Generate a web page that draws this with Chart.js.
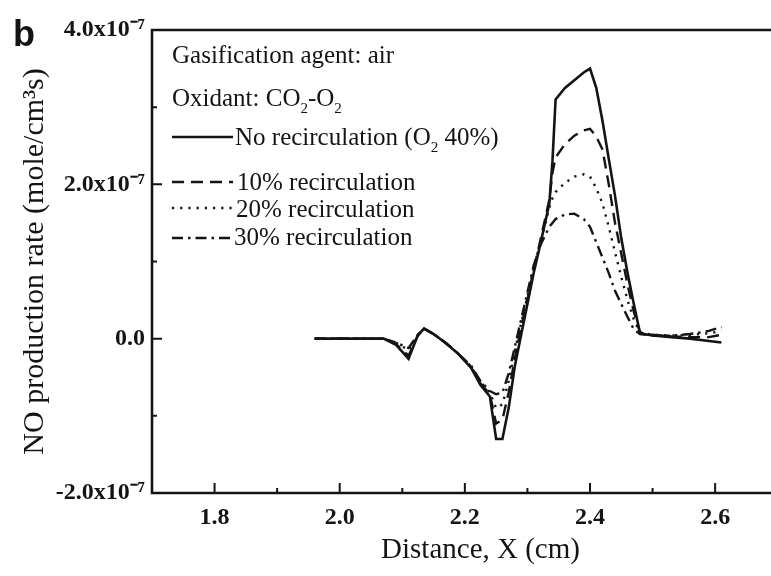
<!DOCTYPE html>
<html>
<head>
<meta charset="utf-8">
<title>NO production rate</title>
<script src="https://cdn.jsdelivr.net/npm/chart.js@4.4.1/dist/chart.umd.min.js"></script>
<style>
  html, body { margin: 0; padding: 0; background: #fff; overflow: hidden; }
  #wrap { position: relative; width: 812px; height: 576px; }
</style>
</head>
<body>
<div id="wrap"><canvas id="noChart"></canvas></div>
<script>
// Distance along the reactor (cm), shared by all four runs
const distance = [1.96, 2.00, 2.04, 2.07, 2.09, 2.11, 2.125, 2.135, 2.15, 2.17,
                  2.19, 2.21, 2.225, 2.24, 2.25, 2.26, 2.27, 2.28, 2.29, 2.30,
                  2.31, 2.32, 2.335, 2.34, 2.345, 2.36, 2.375, 2.39, 2.40, 2.41,
                  2.42, 2.43, 2.44, 2.45, 2.46, 2.47, 2.48, 2.50, 2.53, 2.56,
                  2.59, 2.61];

// NO production rate, in units of 1e-7 mole/(cm3 s)
const noRecirc = [0, 0, 0, 0, -0.08, -0.26, 0.05, 0.13, 0.06, -0.06,
                  -0.2, -0.38, -0.6, -0.75, -1.3, -1.3, -0.9, -0.35, 0.05, 0.45,
                  0.85, 1.2, 1.75, 2.3, 3.1, 3.25, 3.35, 3.45, 3.5, 3.25,
                  2.82, 2.33, 1.85, 1.3, 0.85, 0.45, 0.07, 0.04, 0.02, 0,
                  -0.03, -0.05];
const recirc10 = [0, 0, 0, 0, -0.07, -0.22, 0.04, 0.13, 0.06, -0.06,
                  -0.2, -0.37, -0.58, -0.72, -1.1, -1.05, -0.7, -0.25, 0.15, 0.5,
                  0.9, 1.25, 1.8, 2.15, 2.35, 2.52, 2.63, 2.7, 2.72, 2.62,
                  2.45, 2.0, 1.5, 1.1, 0.7, 0.35, 0.08, 0.05, 0.03, 0.02,
                  0.02, 0.05];
const recirc20 = [0, 0, 0, 0, -0.05, -0.15, 0.05, 0.13, 0.06, -0.06,
                  -0.2, -0.36, -0.56, -0.7, -0.9, -0.85, -0.55, -0.15, 0.2, 0.55,
                  0.9, 1.2, 1.7, 1.82, 1.9, 2.02, 2.1, 2.13, 2.1, 1.95,
                  1.75, 1.45, 1.12, 0.8, 0.5, 0.25, 0.08, 0.05, 0.04, 0.05,
                  0.07, 0.1];
const recirc30 = [0, 0, 0, 0, -0.05, -0.12, 0.05, 0.13, 0.06, -0.06,
                  -0.2, -0.35, -0.55, -0.68, -0.72, -0.7, -0.45, -0.1, 0.25, 0.6,
                  0.95, 1.2, 1.45, 1.5, 1.55, 1.61, 1.62, 1.55, 1.45, 1.25,
                  1.05, 0.85, 0.62, 0.45, 0.28, 0.12, 0.06, 0.04, 0.04, 0.06,
                  0.1, 0.15];

// {..} marks a subscript
const seriesNames = ['No recirculation (O{2} 40%)', '10% recirculation',
                     '20% recirculation', '30% recirculation'];
const legendHeader = ['Gasification agent: air', 'Oxidant: CO{2}-O{2}'];

const xTickMajor = [1.8, 2.0, 2.2, 2.4, 2.6];
const xTickMinor = [1.9, 2.1, 2.3, 2.5, 2.7];
const yTickMajor = [-2, 0, 2, 4];
const yTickMinor = [-1, 1, 3];
const yTickLabels = ['-2.0x10⁻⁷', '0.0', '2.0x10⁻⁷', '4.0x10⁻⁷'];

const SERIF = "'Liberation Serif', 'Times New Roman', serif";
const INK = '#141414';

const styles = [
  { borderDash: [], borderWidth: 2.6 },
  { borderDash: [12, 7], borderWidth: 2.4 },
  { borderDash: [2.2, 6], borderWidth: 2.4 },
  { borderDash: [11, 5, 2.5, 5], borderWidth: 2.4 }
];

const allSeries = [noRecirc, recirc10, recirc20, recirc30];
const datasets = allSeries.map((vals, i) => ({
  label: seriesNames[i].replace(/[{}]/g, ''),
  data: distance.map((d, k) => ({ x: d, y: vals[k] })),
  borderColor: INK,
  borderWidth: styles[i].borderWidth,
  borderDash: styles[i].borderDash,
  pointRadius: 0,
  tension: 0,
  fill: false
}));

// text with {sub} parts, drawn left to right
function drawRich(ctx, str, x, y, size) {
  const parts = str.split(/(\{[^}]*\})/).filter(s => s.length);
  parts.forEach(p => {
    if (p[0] === '{') {
      const t = p.slice(1, -1);
      ctx.font = Math.round(size * 0.6) + 'px ' + SERIF;
      ctx.fillText(t, x, y + size * 0.28);
      x += ctx.measureText(t).width;
    } else {
      ctx.font = size + 'px ' + SERIF;
      ctx.fillText(p, x, y);
      x += ctx.measureText(p).width;
    }
  });
}

const framePlugin = {
  id: 'frame',
  afterDraw(chart) {
    const { ctx, chartArea: a, scales: { x, y } } = chart;
    ctx.save();
    ctx.strokeStyle = INK;
    ctx.lineCap = 'butt';

    // axes box (left, bottom, top)
    ctx.lineWidth = 2.6;
    ctx.beginPath();
    ctx.moveTo(a.right + 5, a.top);
    ctx.lineTo(a.left, a.top);
    ctx.lineTo(a.left, a.bottom);
    ctx.lineTo(a.right + 5, a.bottom);
    ctx.stroke();

    // inward tick marks
    ctx.lineWidth = 2;
    ctx.beginPath();
    xTickMajor.forEach(v => { const p = x.getPixelForValue(v); ctx.moveTo(p, a.bottom); ctx.lineTo(p, a.bottom - 10); });
    xTickMinor.forEach(v => { const p = x.getPixelForValue(v); ctx.moveTo(p, a.bottom); ctx.lineTo(p, a.bottom - 5); });
    yTickMajor.forEach(v => { const p = y.getPixelForValue(v); ctx.moveTo(a.left, p); ctx.lineTo(a.left + 10, p); });
    yTickMinor.forEach(v => { const p = y.getPixelForValue(v); ctx.moveTo(a.left, p); ctx.lineTo(a.left + 5, p); });
    ctx.stroke();

    // panel letter
    ctx.fillStyle = INK;
    ctx.textBaseline = 'alphabetic';
    ctx.font = "bold 36px 'Liberation Sans', Arial, sans-serif";
    ctx.fillText('b', 13, 46);

    // legend block
    const lx = 172;
    drawRich(ctx, legendHeader[0], lx, 63, 25);
    drawRich(ctx, legendHeader[1], lx, 106, 25);
    const sampleY = [137, 182, 208, 238];
    const textX = [235, 237, 236, 234];
    const textY = [145, 190, 217, 245];
    chart.data.datasets.forEach((ds, i) => {
      ctx.lineWidth = ds.borderWidth;
      ctx.setLineDash(ds.borderDash);
      ctx.beginPath();
      ctx.moveTo(lx, sampleY[i]);
      ctx.lineTo(lx + 61, sampleY[i]);
      ctx.stroke();
      ctx.setLineDash([]);
      drawRich(ctx, seriesNames[i], textX[i], textY[i], 25);
    });
    ctx.restore();
  }
};

new Chart(document.getElementById('noChart'), {
  type: 'line',
  data: { datasets },
  options: {
    responsive: true,
    maintainAspectRatio: false,
    animation: false,
    layout: { padding: { top: 30, right: 3, left: 0, bottom: 0 } },
    plugins: { legend: { display: false }, tooltip: { enabled: false } },
    scales: {
      x: {
        type: 'linear',
        min: 1.7,
        max: 2.75,
        afterBuildTicks: s => { s.ticks = xTickMajor.map(v => ({ value: v })); },
        afterFit: s => { s.height = 83; },
        grid: { display: false, drawTicks: false },
        border: { display: false },
        ticks: {
          color: INK,
          padding: 10,
          maxRotation: 0,
          font: { family: SERIF, size: 24, weight: 'bold' },
          callback: v => v.toFixed(1)
        },
        title: {
          display: true,
          text: 'Distance, X (cm)',
          color: INK,
          font: { family: SERIF, size: 29 },
          padding: { top: 0, bottom: 8 }
        }
      },
      y: {
        min: -2,
        max: 4,
        afterBuildTicks: s => { s.ticks = yTickMajor.map(v => ({ value: v })); },
        afterFit: s => { s.width = 152; },
        grid: { display: false, drawTicks: false },
        border: { display: false },
        ticks: {
          color: INK,
          padding: 7,
          font: { family: SERIF, size: 24, weight: 'bold' },
          callback: v => yTickLabels[yTickMajor.indexOf(v)]
        },
        title: {
          display: true,
          text: 'NO production rate (mole/cm³s)',
          color: INK,
          font: { family: SERIF, size: 30 },
          padding: { top: 17, bottom: 0 }
        }
      }
    }
  },
  plugins: [framePlugin]
});
</script>
</body>
</html>
